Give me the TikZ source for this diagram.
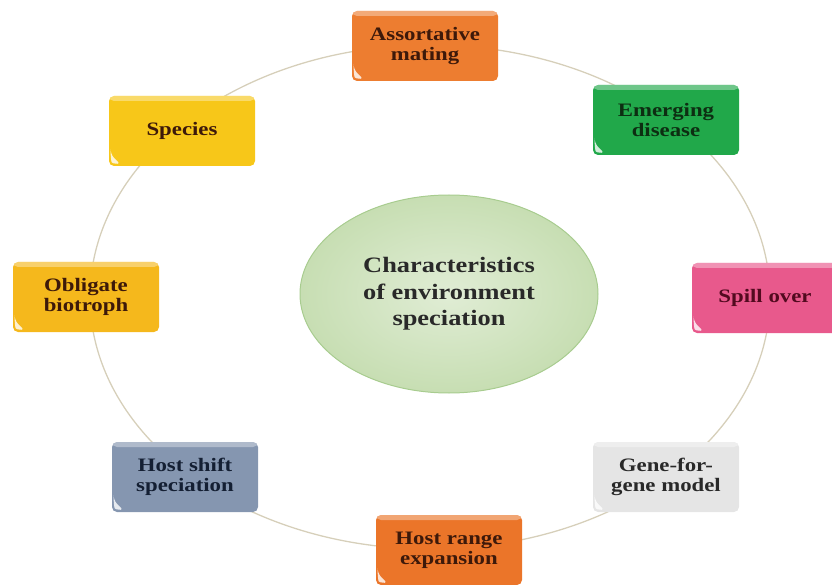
\documentclass[tikz,border=0pt]{standalone}
\usepackage{fontspec}
\usepackage{tikz}
\usetikzlibrary{shapes.geometric}
\newfontfamily\lblfont{Liberation Serif}[FakeStretch=1.2]
\definecolor{ringcol}{rgb}{0.84, 0.81, 0.73}
\definecolor{orange1}{rgb}{0.93, 0.49, 0.19}
\definecolor{green1}{rgb}{0.13, 0.66, 0.29}
\definecolor{pink1}{rgb}{0.91, 0.35, 0.55}
\definecolor{grey1}{rgb}{0.90, 0.90, 0.90}
\definecolor{orange2}{rgb}{0.92, 0.46, 0.16}
\definecolor{slate1}{rgb}{0.52, 0.59, 0.69}
\definecolor{gold1}{rgb}{0.96, 0.72, 0.11}
\definecolor{yellow1}{rgb}{0.97, 0.78, 0.10}
\definecolor{ellfill}{rgb}{0.78, 0.87, 0.70}
\definecolor{elldraw}{rgb}{0.66, 0.80, 0.56}
\definecolor{txtbrown}{rgb}{0.24, 0.10, 0.04}
\definecolor{txtgreen}{rgb}{0.05, 0.18, 0.07}
\definecolor{txtmaroon}{rgb}{0.32, 0.04, 0.12}
\definecolor{txtgrey}{rgb}{0.16, 0.16, 0.16}
\definecolor{txtnavy}{rgb}{0.08, 0.12, 0.20}
\tikzset{%
  ring/.style={draw=ringcol, line width=1.3pt, ellipse, minimum width=680pt, minimum height=504pt, inner sep=0pt},
  tile/.style={rounded corners=5pt, minimum width=146pt, minimum height=70pt, align=center,
    font=\lblfont\bfseries\fontsize{19}{20}\selectfont,
    path picture={%
      \fill[white, opacity=0.35] (path picture bounding box.north west) rectangle ([yshift=-5pt]path picture bounding box.north east);
      \fill[white, opacity=0.8] ([xshift=1.5pt,yshift=12pt]path picture bounding box.south west)
        .. controls ([xshift=2.5pt,yshift=3pt]path picture bounding box.south west) .. ([xshift=12pt,yshift=1.5pt]path picture bounding box.south west)
        .. controls ([xshift=6pt,yshift=7pt]path picture bounding box.south west) .. cycle;
    }},
  hub/.style={ellipse, draw=elldraw, line width=1pt, inner color=ellfill!55!white, outer color=ellfill,
    minimum width=298pt, minimum height=198pt, align=center,
    font=\lblfont\bfseries\fontsize{22}{26.5}\selectfont, text=txtgrey},
}

\begin{document}
\begin{tikzpicture}[x=1pt, y=-1pt]
  \useasboundingbox (0,0) rectangle (832,585);
  % ring behind the tiles
  \node[ring] (ring) at (430,297) {};

  \node[hub] (hub) at (449,294) {Characteristics\\of environment\\speciation};

  \node[tile, fill=orange1, text=txtbrown] (assort) at (425,46) {Assortative\\mating};
  \node[tile, fill=green1, text=txtgreen] (emerge) at (666,120) {Emerging\\disease};
  \node[tile, fill=pink1, text=txtmaroon] (spill) at (765,298) {Spill over};
  \node[tile, fill=grey1, text=txtgrey] (gene) at (666,477) {Gene-for-\\gene model};
  \node[tile, fill=orange2, text=txtbrown] (hrange) at (449,550) {Host range\\expansion};
  \node[tile, fill=slate1, text=txtnavy] (hshift) at (185,477) {Host shift\\speciation};
  \node[tile, fill=gold1, text=txtbrown] (oblig) at (86,297) {Obligate\\biotroph};
  \node[tile, fill=yellow1, text=txtbrown] (species) at (182,131) {Species};
\end{tikzpicture}
\end{document}
